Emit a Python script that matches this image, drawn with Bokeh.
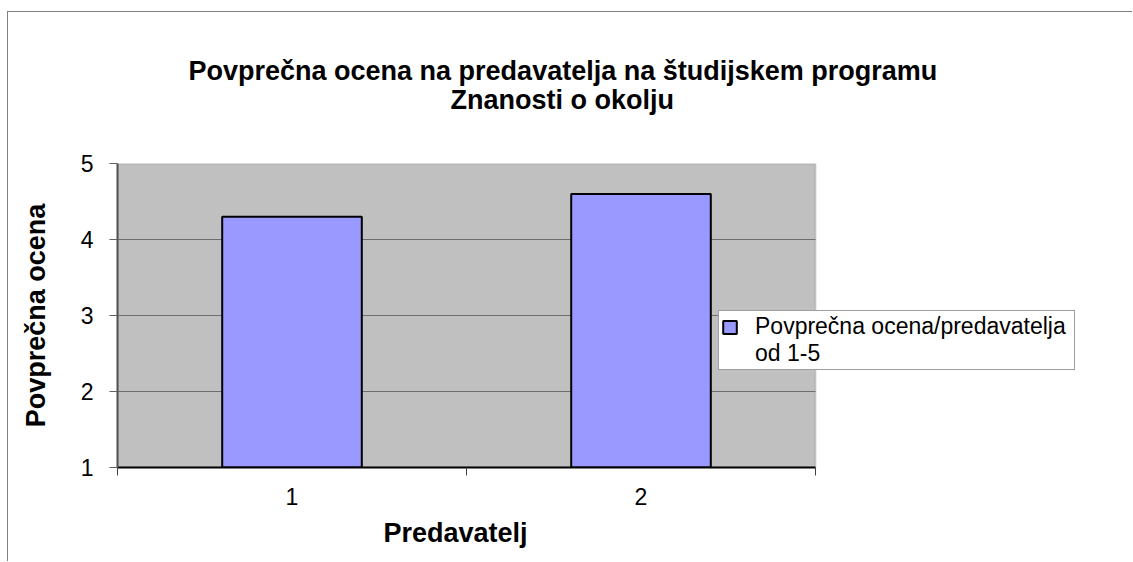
from bokeh.plotting import figure
from bokeh.models import (Range1d, FixedTicker, Legend, LegendItem, Title,
                          BoxAnnotation)
from bokeh.embed import file_html
from bokeh.resources import INLINE

# ---- data ----
lecturers = ["1", "2"]
x_pos = [1, 2]
avg_scores = [4.3, 4.6]
y_ticks = [1, 2, 3, 4, 5]
x_bounds = [0.5, 1.5, 2.5]
y_min, y_max = 1, 5
series_label_line1 = "Povprečna ocena/predavatelja"
series_label_line2 = "od 1-5"
title_line1 = "Povprečna ocena na predavatelja na študijskem programu"
title_line2 = "Znanosti o okolju"
x_title = "Predavatelj"
y_title = "Povprečna ocena"

FONT = "Liberation Sans"
BAR_FILL = "#9999FF"

# plot area covers x 0.5..2.5; the frame is widened to the right so that the
# legend (which sits beside the plot area) is not clipped
plot_w_px = 698
frame_w_px = 1008
x_end = x_bounds[0] + (x_bounds[-1] - x_bounds[0]) * frame_w_px / plot_w_px

p = figure(width=1125, height=550, output_backend="svg", toolbar_location=None,
           x_range=Range1d(x_bounds[0], x_end), y_range=Range1d(y_min, y_max),
           min_border_left=109, min_border_right=8,
           min_border_top=151, min_border_bottom=95)
p.styles = {"margin-left": "7px", "margin-top": "11px",
            "border-left": "1px solid #808080", "border-top": "1px solid #808080"}

p.background_fill_color = "white"
p.border_fill_color = "white"
p.outline_line_color = None

plot_area = BoxAnnotation(left=x_bounds[0], right=x_bounds[-1], bottom=y_min, top=y_max,
                          fill_color="#C0C0C0", fill_alpha=1,
                          line_color="#808080", line_width=2, level="image")
p.add_layout(plot_area)

bars = p.vbar(x=x_pos, top=avg_scores, bottom=y_min, width=0.4,
              fill_color=BAR_FILL, line_color="black", line_width=2)

# y axis
p.yaxis.ticker = FixedTicker(ticks=y_ticks)
p.yaxis.axis_line_color = "#505050"
p.yaxis.axis_line_width = 2
p.yaxis.major_tick_out = 8
p.yaxis.major_tick_in = 0
p.yaxis.major_tick_line_color = "#606060"
p.yaxis.minor_tick_line_color = None
p.yaxis.major_label_standoff = 16
p.yaxis.major_label_text_font = FONT
p.yaxis.major_label_text_font_size = "23px"
p.yaxis.major_label_text_color = "black"
p.yaxis.axis_label = y_title
p.yaxis.axis_label_text_font = FONT
p.yaxis.axis_label_text_font_style = "bold"
p.yaxis.axis_label_text_font_size = "27px"
p.yaxis.axis_label_text_color = "black"
p.yaxis.axis_label_standoff = 27

# x axis
p.xaxis.ticker = FixedTicker(ticks=x_pos, minor_ticks=x_bounds)
p.xaxis.bounds = (x_bounds[0], x_bounds[-1])
p.xaxis.major_label_overrides = {x: lab for x, lab in zip(x_pos, lecturers)}
p.xaxis.axis_line_color = "black"
p.xaxis.axis_line_width = 2
p.xaxis.major_tick_line_color = None
p.xaxis.major_tick_out = 0
p.xaxis.major_tick_in = 0
p.xaxis.minor_tick_line_color = "#404040"
p.xaxis.minor_tick_out = 8
p.xaxis.minor_tick_in = 0
p.xaxis.major_label_standoff = 12
p.xaxis.major_label_text_font = FONT
p.xaxis.major_label_text_font_size = "23px"
p.xaxis.major_label_text_color = "black"

p.xgrid.grid_line_color = None
p.ygrid.grid_line_color = "#6E6E6E"
p.ygrid.grid_line_width = 1
p.ygrid.cross_bounds = (x_bounds[0], x_bounds[-1])

# x axis title (below the axis, over the plot area)
xt = Title(text=x_title, align="left", offset=266, standoff=17,
           text_font=FONT, text_font_style="bold", text_font_size="27px",
           text_color="black")
p.add_layout(xt, "below")

# legend beside the plot area
legend = Legend(items=[LegendItem(label=series_label_line1, renderers=[bars]),
                       LegendItem(label=series_label_line2, renderers=[])],
                location=(601, 97), orientation="vertical",
                background_fill_color="white", background_fill_alpha=1,
                border_line_color="#404040", border_line_width=1,
                label_text_font=FONT, label_text_font_size="23px",
                label_text_color="black", glyph_width=17, glyph_height=16,
                padding=2, spacing=0, margin=0, label_standoff=17,
                label_width=317)
p.add_layout(legend, "center")

# two-line title (panels listed from the plot outwards)
spacer_low = Title(text=" ", text_font_size="2px", standoff=48)
t2 = Title(text=title_line2, align="left", offset=333, standoff=-6,
           text_font=FONT, text_font_style="bold", text_font_size="27px",
           text_color="black")
t1 = Title(text=title_line1, align="left", offset=71, standoff=0,
           text_font=FONT, text_font_style="bold", text_font_size="27px",
           text_color="black")
spacer_top = Title(text=" ", text_font_size="2px", standoff=35)
p.add_layout(spacer_low, "above")
p.add_layout(t2, "above")
p.add_layout(t1, "above")
p.add_layout(spacer_top, "above")

open("out.html", "w").write(file_html(p, INLINE))
